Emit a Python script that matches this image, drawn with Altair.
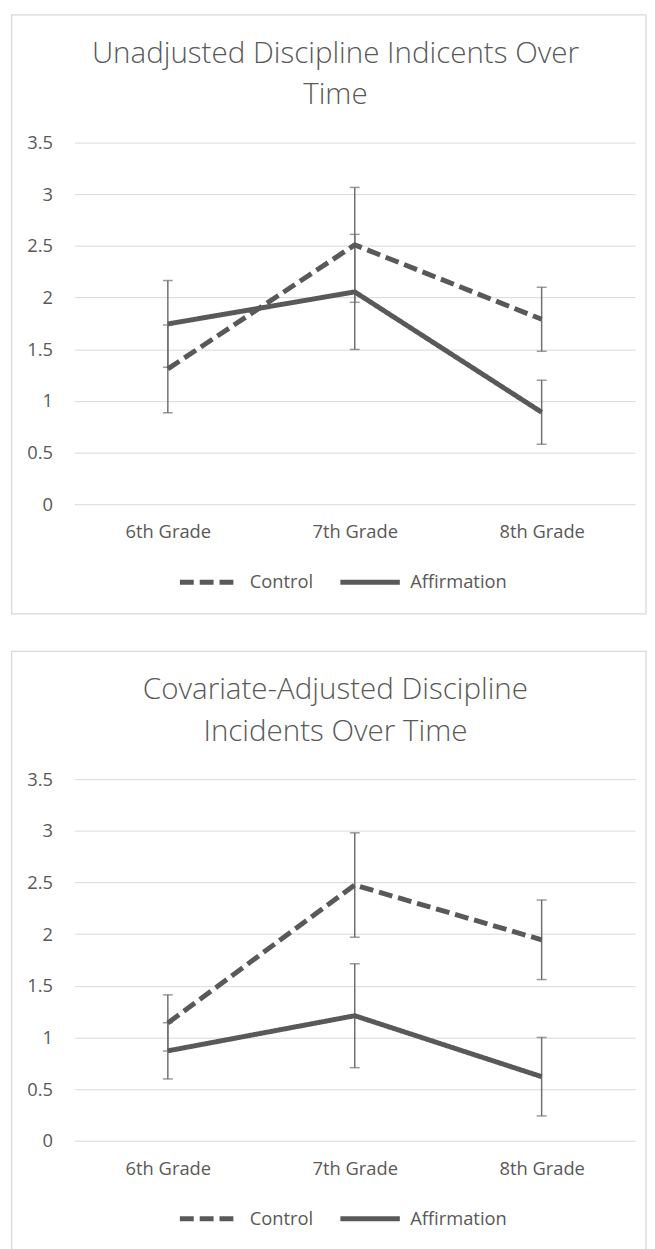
import altair as alt
import pandas as pd

grades = ["6th Grade", "7th Grade", "8th Grade"]
groups = ["Control", "Affirmation"]
y_ticks = [0, 0.5, 1, 1.5, 2, 2.5, 3, 3.5]

top_title = ["Unadjusted Discipline Indicents Over", "Time"]
top_control = [1.31, 2.51, 1.79]
top_control_err = [0.425, 0.556, 0.31]
top_affirm = [1.745, 2.055, 0.89]
top_affirm_err = [0.42, 0.557, 0.31]

bot_title = ["Covariate-Adjusted Discipline", "Incidents Over Time"]
bot_control = [1.14, 2.475, 1.945]
bot_control_err = [0.272, 0.505, 0.385]
bot_affirm = [0.87, 1.21, 0.62]
bot_affirm_err = [0.272, 0.503, 0.38]

W, H = 566, 365
FONT = "Open Sans"
TXT = "#595959"
LINE = "#595959"
EB = "#707070"
GRID = "#d9d9d9"


def panel(title_lines, control, control_err, affirm, affirm_err):
    rows = []
    for g, vals, errs in [("Control", control, control_err),
                          ("Affirmation", affirm, affirm_err)]:
        for gr, v, e in zip(grades, vals, errs):
            rows.append({"grade": gr, "group": g, "value": v,
                         "lo": v - e, "hi": v + e})
    df = pd.DataFrame(rows)
    base = alt.Chart(df)

    x = alt.X("grade:N", sort=grades,
              scale=alt.Scale(type="point", padding=0.5),
              axis=alt.Axis(title=None, labelAngle=0, ticks=False, tickSize=0,
                            domain=False, grid=False, labelPadding=19,
                            labelFont=FONT, labelFontSize=18.5, labelColor=TXT))
    ysc = alt.Scale(domain=[0, 3.5], nice=False, zero=True)
    yax = alt.Axis(title=None, values=y_ticks, format=".1~f", grid=True,
                   gridColor=GRID, gridWidth=1, domain=False, ticks=False,
                   tickSize=0, labelPadding=22, labelFont=FONT,
                   labelFontSize=18.5, labelColor=TXT)

    rules = base.mark_rule(color=EB, strokeWidth=1.5).encode(
        x=x, y=alt.Y("lo:Q", scale=ysc, axis=yax), y2="hi:Q")
    cap_lo = base.mark_tick(color=EB, thickness=1.5, size=10).encode(
        x=x, y=alt.Y("lo:Q", scale=ysc, axis=yax))
    cap_hi = base.mark_tick(color=EB, thickness=1.5, size=10).encode(
        x=x, y=alt.Y("hi:Q", scale=ysc, axis=yax))

    lines = base.mark_line(color=LINE, strokeWidth=5, strokeJoin="round").encode(
        x=x,
        y=alt.Y("value:Q", scale=ysc, axis=yax),
        strokeDash=alt.StrokeDash(
            "group:N", sort=groups,
            scale=alt.Scale(domain=groups, range=[[14, 6], [1, 0]]),
            legend=alt.Legend(title=None, orient="none", legendX=104,
                              legendY=411, direction="horizontal",
                              symbolType="stroke", symbolSize=3600,
                              symbolStrokeWidth=5, symbolStrokeColor=LINE,
                              labelFont=FONT, labelFontSize=18.5,
                              labelColor=TXT, labelOffset=8,
                              columnPadding=16, padding=0)),
    )

    tdf = pd.DataFrame({"t": ["\n".join(title_lines)]})
    title = alt.Chart(tdf).mark_text(
        font=FONT, fontSize=29.8, fontWeight=300, color=TXT, lineBreak="\n",
        lineHeight=41.7, baseline="alphabetic", align="center").encode(
        x=alt.value(263.5), y=alt.value(-80.5), text="t:N")

    border = alt.Chart(tdf).mark_rect(
        fill="transparent", stroke=GRID, strokeWidth=1.3).encode(
        x=alt.value(-63.3), x2=alt.value(577), y=alt.value(-128.85),
        y2=alt.value(475.8))

    return alt.layer(border, title, rules, cap_lo, cap_hi, lines).properties(
        width=W, height=H)


top = panel(top_title, top_control, top_control_err, top_affirm, top_affirm_err)
bottom = panel(bot_title, bot_control, bot_control_err, bot_affirm, bot_affirm_err)

chart = alt.vconcat(top, bottom, spacing=35.5).resolve_scale(
    strokeDash="independent"
).resolve_legend(
    strokeDash="independent"
).properties(
    padding={"left": 3, "top": 0, "right": 0, "bottom": 0},
    background="white"
).configure_view(stroke="transparent", strokeWidth=0)

chart.save("out.html", embed_options={"renderer": "svg", "actions": False})
